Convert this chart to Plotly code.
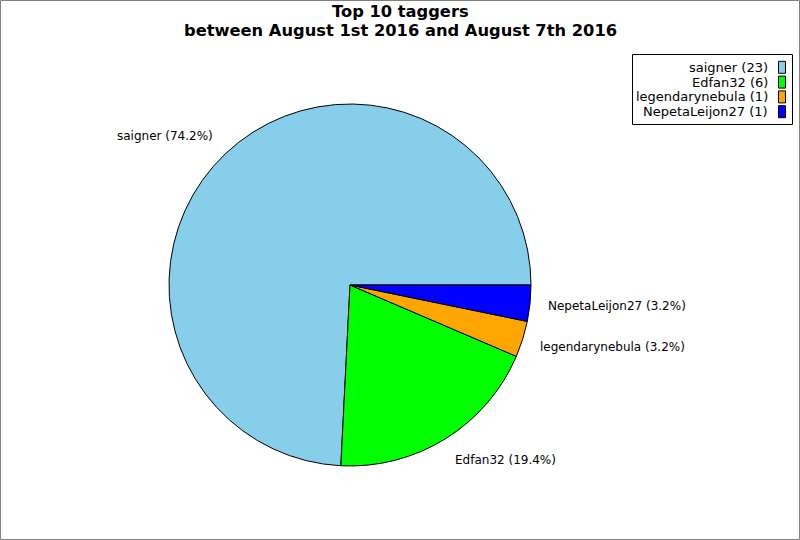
import math
import plotly.graph_objects as go

# ---- data ----
taggers = ["saigner", "Edfan32", "legendarynebula", "NepetaLeijon27"]
counts = [23, 6, 1, 1]
colors = ["#87CEEB", "#00FF00", "#FFA500", "#0000FF"]
title_lines = ["Top 10 taggers", "between August 1st 2016 and August 7th 2016"]

W, H = 800, 540
cx, cy, r = 350, 285, 181
FONT = "DejaVu Sans"

total = sum(counts)

# Plotly (counterclockwise) places the first slice so that its counterclockwise end
# sits at `rotation` (measured clockwise from 12 o'clock). We want the first slice to
# start at 3 o'clock and run counterclockwise.
rotation = 90 - 360 * counts[0] / total

fig = go.Figure()
fig.add_trace(go.Pie(
    labels=taggers, values=counts, sort=False,
    direction="counterclockwise", rotation=rotation,
    marker=dict(colors=colors, line=dict(color="black", width=1)),
    textinfo="none", hoverinfo="label+value+percent",
    domain=dict(x=[(cx - r) / W, (cx + r) / W], y=[1 - (cy + r) / H, 1 - (cy - r) / H]),
    showlegend=False,
))

def px(x):
    return x / W

def py(y):
    return 1 - y / H

annotations = []
shapes = []

# slice labels (slices go counterclockwise from 3 o'clock)
cum = 0
for name, c in zip(taggers, counts):
    mid = (cum + c / 2) / total * 2 * math.pi
    cum += c
    pct = c / total * 100
    lx = cx + 1.1 * r * math.cos(mid)
    ly = cy - (1.1 * r + 7) * math.sin(mid)
    right_side = math.cos(mid) >= 0
    annotations.append(dict(
        x=px(lx), y=py(ly), xref="paper", yref="paper",
        text=f"{name} ({pct:.1f}%)", showarrow=False,
        xanchor="left" if right_side else "right", yanchor="middle",
        xshift=-2 if right_side else 2,
        font=dict(family=FONT, size=12, color="black"),
    ))

# title
for i, line in enumerate(title_lines):
    annotations.append(dict(
        x=0.5, y=py(11 + 19 * i), xref="paper", yref="paper",
        text=f"<b>{line}</b>", showarrow=False, xanchor="center", yanchor="middle",
        font=dict(family=FONT, size=16.3, color="black"),
    ))

# legend (text right-aligned, swatch on the right)
shapes.append(dict(type="rect", xref="paper", yref="paper",
                   x0=px(632.5), x1=px(792.5), y0=py(54.5), y1=py(124.5),
                   line=dict(color="black", width=1), fillcolor="white", layer="below"))
for i, (name, c, col) in enumerate(zip(taggers, counts, colors)):
    yc = 67.3 + 14.8 * i
    annotations.append(dict(
        x=px(770), y=py(yc), xref="paper", yref="paper",
        text=f"{name} ({c})", showarrow=False, xanchor="right", yanchor="middle",
        font=dict(family=FONT, size=13, color="black"),
    ))
    shapes.append(dict(type="rect", xref="paper", yref="paper",
                       x0=px(778.5), x1=px(785.5), y0=py(yc - 6), y1=py(yc + 6),
                       line=dict(color="black", width=1), fillcolor=col))

# outer border
shapes.append(dict(type="rect", xref="paper", yref="paper",
                   x0=px(0.5), x1=px(W - 0.5), y0=py(H - 0.5), y1=py(0.5),
                   line=dict(color="#808080", width=1)))

fig.update_layout(
    width=W, height=H,
    margin=dict(l=0, r=0, t=0, b=0),
    paper_bgcolor="white", plot_bgcolor="white",
    annotations=annotations, shapes=shapes,
    font=dict(family=FONT),
)

fig.write_html("out.html", config={"displayModeBar": False},
               post_script="document.body.style.margin='0px';")
